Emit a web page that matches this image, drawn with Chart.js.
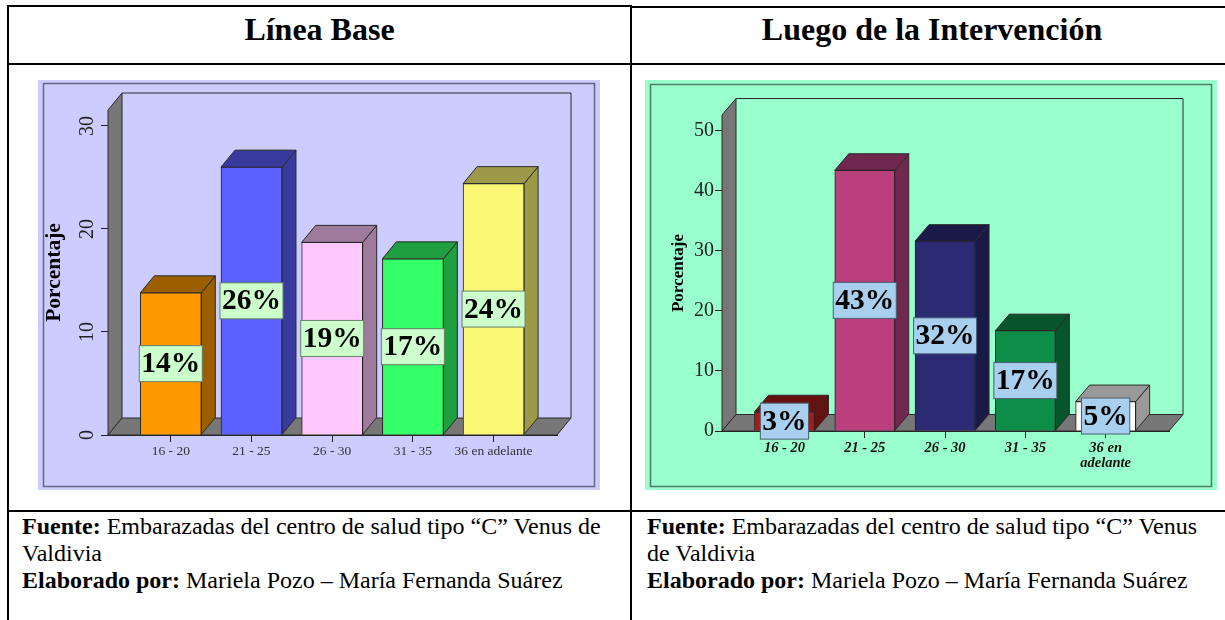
<!DOCTYPE html>
<html lang="es">
<head>
<meta charset="utf-8">
<script src="https://cdn.jsdelivr.net/npm/chart.js@4/dist/chart.umd.min.js"></script>
<style>
html,body{margin:0;padding:0;background:#fff;overflow:hidden}
body{width:1225px;height:620px;position:relative;font-family:"Liberation Serif",serif;color:#000}
.ln{position:absolute;background:#000}
canvas{position:absolute;display:block}
.head{position:absolute;top:9px;font-weight:bold;font-size:32px;line-height:40px;text-align:center}
.foot{position:absolute;top:513px;font-size:24px;line-height:27px;white-space:normal}
</style>
</head>
<body>
<div class="ln" style="left:7px;top:5px;width:624px;height:2px"></div>
<div class="ln" style="left:631px;top:6px;width:594px;height:2px"></div>
<div class="ln" style="left:7px;top:5px;width:2px;height:615px"></div>
<div class="ln" style="left:630px;top:5px;width:2px;height:615px"></div>
<div class="ln" style="left:7px;top:63px;width:1218px;height:2px"></div>
<div class="ln" style="left:7px;top:510px;width:1218px;height:2px"></div>
<div class="head" style="left:9px;width:621px">Línea Base</div>
<div class="head" style="left:632px;width:600px">Luego de la Intervención</div>
<div class="foot" style="left:22px;width:600px"><b>Fuente:</b> Embarazadas del centro de salud tipo “C” Venus de Valdivia<br><b>Elaborado por:</b> Mariela Pozo – María Fernanda Suárez</div>
<div class="foot" style="left:647px;width:565px"><b>Fuente:</b> Embarazadas del centro de salud tipo “C” Venus de Valdivia<br><b>Elaborado por:</b> Mariela Pozo – María Fernanda Suárez</div>
<canvas id="c1" width="562" height="410" style="left:38px;top:80px"></canvas>
<canvas id="c2" width="572" height="410" style="left:645px;top:80px"></canvas>
<script>
const categoriesBase = ["16 - 20","21 - 25","26 - 30","31 - 35","36 en adelante"];
const valuesBase = [13.8,26,18.7,17.1,24.4];
const labelsBase = ["14%","26%","19%","17%","24%"];
const colorsBase = ["#ff9900","#5b60ff","#ffc8fc","#33ff66","#fbf774"];
const sidesBase = ["#9c5f00","#383a9e","#9e7b9c","#1f9f40","#9c9a48"];

const categoriesPost = ["16 - 20","21 - 25","26 - 30","31 - 35",["36 en","adelante"]];
const valuesPost = [3.2,43.4,31.6,16.7,4.9];
const labelsPost = ["3%","43%","32%","17%","5%"];
const colorsPost = ["#b01818","#bb3f7c","#2b2a72","#0e8d49","#ffffff"];
const sidesPost = ["#661010","#71284f","#1a1a48","#08552c","#999999"];

const serif = '"Liberation Serif"';

const scene = {
  id:'scene',
  beforeDraw(chart,args,o){
    const c=chart.ctx;
    c.save();
    c.fillStyle=o.bg; c.fillRect(0,0,chart.width,chart.height);
    c.strokeStyle=o.frame; c.lineWidth=1.5;
    c.strokeRect(o.inset[0]+.5,o.inset[1]+.5,chart.width-2*o.inset[0]-1,chart.height-o.inset[1]-o.inset[2]-1);
    c.restore();
  },
  beforeDatasetsDraw(chart,args,o){
    const c=chart.ctx,a=chart.chartArea,dx=o.dx,dy=o.dy;
    c.save();
    c.lineWidth=1; c.strokeStyle='#2a2a2a'; c.fillStyle='#777777';
    c.beginPath();c.moveTo(a.left,a.top);c.lineTo(a.left+dx,a.top-dy);c.lineTo(a.left+dx,a.bottom-dy);c.lineTo(a.left,a.bottom);c.closePath();c.fill();c.stroke();
    c.beginPath();c.moveTo(a.left,a.bottom);c.lineTo(a.left+dx,a.bottom-dy);c.lineTo(a.right+dx,a.bottom-dy);c.lineTo(a.right,a.bottom);c.closePath();c.fill();c.stroke();
    c.beginPath();c.moveTo(a.left+dx,a.top-dy);c.lineTo(a.right+dx,a.top-dy);c.lineTo(a.right+dx,a.bottom-dy);c.stroke();
    chart.getDatasetMeta(0).data.forEach((b,i)=>{
      const r=b.x+b.width/2,l=b.x-b.width/2;
      c.fillStyle=o.sides[i];
      c.beginPath();c.moveTo(r,b.y);c.lineTo(r+dx,b.y-dy);c.lineTo(r+dx,b.base-dy);c.lineTo(r,b.base);c.closePath();c.fill();c.stroke();
      c.beginPath();c.moveTo(l,b.y);c.lineTo(l+dx,b.y-dy);c.lineTo(r+dx,b.y-dy);c.lineTo(r,b.y);c.closePath();c.fill();c.stroke();
    });
    c.restore();
  },
  afterDatasetsDraw(chart,args,o){
    const c=chart.ctx;
    c.save();
    c.font='bold 29.5px '+serif; c.textAlign='center'; c.textBaseline='middle';
    chart.getDatasetMeta(0).data.forEach((b,i)=>{
      const cy=(b.y+b.base)/2, t=o.labels[i], w=c.measureText(t).width+4, h=36;
      c.fillStyle=o.box; c.strokeStyle=o.boxLine; c.lineWidth=1;
      c.fillRect(b.x-w/2,cy-h/2,w,h); c.strokeRect(b.x-w/2,cy-h/2,w,h);
      c.fillStyle='#000'; c.fillText(t,b.x,cy+1);
    });
    c.restore();
  }
};

function build(id,cats,vals,cols,sides,labels,g){
  return new Chart(document.getElementById(id),{
    type:'bar',
    data:{datasets:[{data:vals.map((v,i)=>({x:i+1,y:v})),backgroundColor:cols,borderColor:'#222',borderWidth:1,barThickness:g.bar}]},
    plugins:[scene],
    options:{
      responsive:false,animation:false,devicePixelRatio:1,
      layout:{padding:{top:g.top,right:g.right,left:0,bottom:0}},
      plugins:{legend:{display:false},tooltip:{enabled:false},
        scene:{bg:g.bg,frame:g.frame,inset:g.inset,dx:g.dx,dy:g.dy,sides,labels,box:g.box,boxLine:g.boxLine}},
      scales:{
        x:{type:'linear',min:g.xMin,max:g.xMax,offset:false,bounds:'data',
          afterBuildTicks(s){s.ticks=cats.map((_,i)=>({value:i+1}));},
          afterFit(s){s.height=g.bottom;},
          grid:{offset:false,drawOnChartArea:false,drawTicks:true,tickLength:7,color:'#222'},
          border:{color:'#222'},
          ticks:{autoSkip:false,maxRotation:0,minRotation:0,padding:g.xPad,
            color:g.xColor,font:{family:serif,size:g.xSize,style:g.xStyle,weight:g.xWeight,lineHeight:1},
            callback:v=>cats[v-1]}},
        y:{min:0,max:g.yMax,bounds:'data',
          afterFit(s){s.width=g.left;},
          grid:{drawOnChartArea:false,drawTicks:true,tickLength:7,color:'#222'},
          border:{color:'#222'},
          title:{display:true,text:'Porcentaje',color:'#000',font:{family:serif,size:g.titleSize,weight:'bold'},padding:{top:g.titlePad,bottom:0}},
          ticks:{stepSize:10,includeBounds:false,padding:g.yPad,color:'#222',font:{family:serif,size:20},
            crossAlign:g.yCross,minRotation:g.yRot,maxRotation:g.yRot}}
      }
    }
  });
}

build('c1',categoriesBase,valuesBase,colorsBase,sidesBase,labelsBase,{
  bg:'#ccccff',frame:'#66667f',inset:[5,3,3],box:'#ccffcc',boxLine:'#667f66',
  left:70,right:43,top:30,bottom:55,dx:14,dy:17,bar:61,xMin:.222,xMax:5.786,yMax:31.55,
  xPad:3,xSize:13.5,xColor:'#333',xStyle:'normal',xWeight:'normal',
  titleSize:21.5,titlePad:4,yPad:3,yRot:90,yCross:'center'});
build('c2',categoriesPost,valuesPost,colorsPost,sidesPost,labelsPost,{
  bg:'#99ffcc',frame:'#4d7f66',inset:[5,4,3],box:'#a9cfef',boxLine:'#4a5f70',
  left:77,right:48,top:35,bottom:59,dx:14,dy:16.5,bar:60,xMin:.222,xMax:5.789,yMax:52.6,
  xPad:3,xSize:14.5,xColor:'#111',xStyle:'italic',xWeight:'bold',
  titleSize:17,titlePad:23,yPad:1,yRot:0,yCross:'near'});
</script>
</body>
</html>
